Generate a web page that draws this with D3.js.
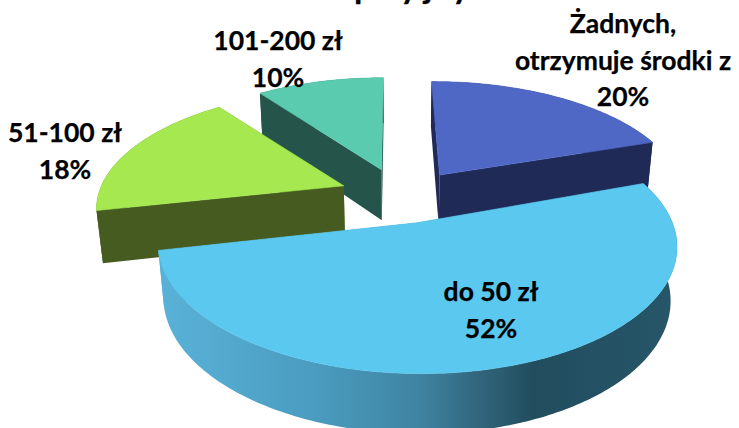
<!DOCTYPE html>
<html>
<head>
<meta charset="utf-8">
<script src="https://cdn.jsdelivr.net/npm/d3@7"></script>
<style>
html,body{margin:0;padding:0;background:#fff;overflow:hidden}
svg{display:block}
text{font-family:Lato,"Open Sans",sans-serif;font-weight:700;fill:#000;stroke:#000;stroke-width:0.25}
</style>
</head>
<body>
<svg id="chart" width="739" height="428"></svg>
<script>
const categories = ["Żadnych, otrzymuje środki z", "do 50 zł", "51-100 zł", "101-200 zł"];
const values = [20, 52, 18, 10];
const topColors = ["#4f68c6", "#5ac8ef", "#a6e850", "#5acbae"];
const wallColors = ["#1f2a56", "url(#rimShade)", "#465b1f", "#24544a"];

// Ground-plane shift of each pulled-out slice, [right, towards viewer].
const explode = [[46, -46], [21, 55], [-52, -22], [-14, -58]];
// Small extra turn per slice, in degrees.
const sliceTurn = [1, 0, 0, 1.5];

const labelLines = [
  ["Żadnych,", "otrzymuje środki z", "20%"],
  ["do 50 zł", "52%"],
  ["51-100 zł", "18%"],
  ["101-200 zł", "10%"]
];
const labelAnchors = [[623, 33], [491, 301], [65, 142], [278, 50]];

// Tail ends of the heading, which runs off the top edge.
const headingGlyphs = ["p", "y", "j", "y"];
const headingX = [354, 400, 424, 452];

const W = 739, H = 428;
const cx = 395, cy = 196, radius = 246, thickness = 60;
const tilt = 28 * Math.PI / 180, camera = 1300;
const rotation = -1.5 * Math.PI / 180;

// Simple pinhole projection of the pie's ground plane, camera above the front edge.
function project(X, Z, Y) {
  const down = Z * Math.sin(tilt) - Y * Math.cos(tilt);
  const depth = Z * Math.cos(tilt) + Y * Math.sin(tilt);
  const s = camera / (camera - depth);
  return [cx + X * s, cy + down * s];
}

const svg = d3.select("#chart");
const defs = svg.append("defs");
const grad = defs.append("linearGradient")
  .attr("id", "rimShade").attr("gradientUnits", "userSpaceOnUse")
  .attr("x1", 158).attr("x2", 680).attr("y1", 0).attr("y2", 0);
[[0, "#5ab2d8"], [0.3, "#4a9cc0"], [0.5, "#3f84a2"], [0.63, "#2f6277"], [0.72, "#214d5e"], [1, "#27566a"]]
  .forEach(([o, c]) => grad.append("stop").attr("offset", o).attr("stop-color", c));

const pie = d3.pie().sort(null).value(d => d)
  .startAngle(rotation).endAngle(rotation + 2 * Math.PI);
const arcs = pie(values);
const line = d3.line();

function rim(d, i, Y) {
  const [ex, ez] = explode[i];
  const turn = sliceTurn[i] * Math.PI / 180;
  const n = Math.ceil((d.endAngle - d.startAngle) * 60);
  return d3.range(n + 1).map(k => {
    const a = turn + d.startAngle + (d.endAngle - d.startAngle) * k / n;
    return project(ex + radius * Math.sin(a), ez - radius * Math.cos(a), Y);
  });
}
function apex(i, Y) {
  return project(explode[i][0], explode[i][1], Y);
}

// Back-to-front: rear slices first, the large front slice last.
[3, 0, 2, 1].forEach(i => {
  const d = arcs[i];
  const g = svg.append("g").attr("class", "slice");
  const top = rim(d, i, 0), bottom = rim(d, i, -thickness);
  const a0 = apex(i, 0), a1 = apex(i, -thickness);
  const wall = pts => g.append("path").attr("d", line(pts) + "Z").attr("fill", wallColors[i]);
  wall([a0, top[0], bottom[0], a1]);
  wall([a0, top[top.length - 1], bottom[bottom.length - 1], a1]);
  wall(top.concat(bottom.slice().reverse()));
  g.append("path").attr("d", line([a0].concat(top)) + "Z")
    .attr("fill", topColors[i]).attr("stroke", topColors[i]).attr("stroke-width", 0.6);
});

// Data labels, two or three centred lines each.
const lineGap = 36.5;
labelLines.forEach((lines, i) => {
  const t = svg.append("text").attr("text-anchor", "middle").attr("font-size", 26.5);
  lines.forEach((s, k) => t.append("tspan")
    .attr("x", labelAnchors[i][0]).attr("y", labelAnchors[i][1] + k * lineGap).text(s));
});

svg.append("g").selectAll("text").data(headingGlyphs).join("text")
  .attr("font-size", 34).attr("y", -2)
  .attr("x", (d, i) => headingX[i]).text(d => d);
</script>
</body>
</html>
